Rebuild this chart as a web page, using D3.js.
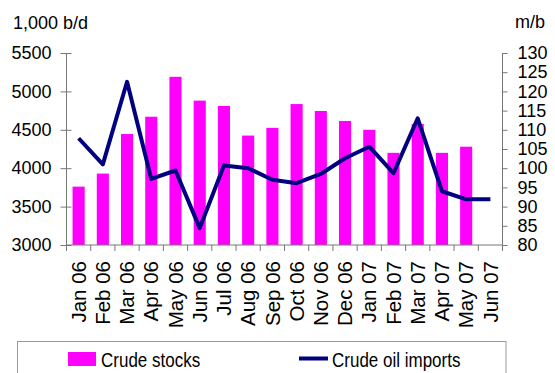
<!DOCTYPE html>
<html>
<head>
<meta charset="utf-8">
<script src="https://cdn.jsdelivr.net/npm/d3@7"></script>
<style>
  html, body { margin: 0; padding: 0; background: #fff; }
  svg { display: block; font-family: "Liberation Sans", Arial, sans-serif; }
</style>
</head>
<body>
<svg id="chart" width="555" height="373"></svg>
<script>
// Monthly categories
const months = ["Jan 06", "Feb 06", "Mar 06", "Apr 06", "May 06", "Jun 06",
                "Jul 06", "Aug 06", "Sep 06", "Oct 06", "Nov 06", "Dec 06",
                "Jan 07", "Feb 07", "Mar 07", "Apr 07", "May 07", "Jun 07"];

// Crude stocks, 1,000 b/d (left axis)
const crudeStocks = [3760, 3930, 4445, 4670, 5190, 4880, 4810, 4425, 4525,
                     4835, 4745, 4615, 4500, 4200, 4575, 4200, 4280, null];

// Crude oil imports, m/b (right axis)
const crudeImports = [107.8, 101.0, 122.5, 97.2, 99.4, 84.4, 100.7, 100.0, 97.0,
                      96.1, 98.5, 102.6, 105.6, 98.7, 113.0, 94.0, 91.9, 91.9];

// Axis ticks
const leftTicks = [3000, 3500, 4000, 4500, 5000, 5500];
const rightTicks = [80, 85, 90, 95, 100, 105, 110, 115, 120, 125, 130];

const svg = d3.select("#chart");
const plot = { left: 66.5, right: 502.5, top: 53, bottom: 245 };
const axisColor = "#777";

const x = d3.scaleBand()
  .domain(months)
  .range([plot.left, plot.right])
  .paddingInner(0.5)
  .paddingOuter(0.25);

const step = x.step();
const center = m => x(m) + x.bandwidth() / 2;

const yLeft = d3.scaleLinear().domain([3000, 5500]).range([plot.bottom, plot.top]);
const yRight = d3.scaleLinear().domain([80, 130]).range([plot.bottom, plot.top]);

// Bars
svg.append("g")
  .selectAll("rect")
  .data(months.map((m, i) => ({ m, v: crudeStocks[i] })).filter(d => d.v != null))
  .join("rect")
  .attr("x", d => x(d.m))
  .attr("width", x.bandwidth())
  .attr("y", d => yLeft(d.v))
  .attr("height", d => yLeft(3000) - yLeft(d.v))
  .attr("fill", "#ff00ff");

// Imports line
const line = d3.line()
  .x((d, i) => center(months[i]))
  .y(d => yRight(d));

svg.append("path")
  .datum(crudeImports)
  .attr("d", line)
  .attr("fill", "none")
  .attr("stroke", "#000080")
  .attr("stroke-width", 4)
  .attr("stroke-linejoin", "round");

// Left axis
const gLeft = svg.append("g")
  .attr("transform", `translate(${plot.left},0)`)
  .call(d3.axisLeft(yLeft).tickValues(leftTicks).tickSize(6).tickPadding(9).tickFormat(d3.format("d")));
gLeft.selectAll(".tick line").attr("x2", -6).attr("x1", 5);

// Right axis
const gRight = svg.append("g")
  .attr("transform", `translate(${plot.right},0)`)
  .call(d3.axisRight(yRight).tickValues(rightTicks).tickSize(5).tickPadding(10));

[gLeft, gRight].forEach(g => {
  g.select(".domain").attr("stroke", axisColor).attr("d", `M0,${plot.top}V${plot.bottom}`);
  g.selectAll(".tick line").attr("stroke", axisColor);
  g.selectAll(".tick text")
    .attr("fill", "#000")
    .style("font-size", "18px")
    .style("font-family", "'Liberation Sans', Arial, sans-serif");
});

// Category axis
const gx = svg.append("g");
gx.append("line")
  .attr("x1", plot.left).attr("x2", plot.right)
  .attr("y1", plot.bottom).attr("y2", plot.bottom)
  .attr("stroke", axisColor);

const boundaries = months.map(m => x(m) - step * 0.25).concat([plot.right]);
gx.selectAll("line.tk")
  .data(boundaries)
  .join("line")
  .attr("class", "tk")
  .attr("x1", d => d).attr("x2", d => d)
  .attr("y1", plot.bottom).attr("y2", plot.bottom + 6)
  .attr("stroke", axisColor);

gx.selectAll("text")
  .data(months)
  .join("text")
  .attr("transform", d => `translate(${center(d)},${plot.bottom + 16}) rotate(-90)`)
  .attr("text-anchor", "end")
  .attr("dy", "0.35em")
  .style("font-size", "20.5px")
  .text(d => d);

// Axis titles
svg.append("text")
  .attr("x", 13).attr("y", 29)
  .style("font-size", "18px")
  .text("1,000 b/d");

svg.append("text")
  .attr("x", 545).attr("y", 28)
  .attr("text-anchor", "end")
  .style("font-size", "18px")
  .text("m/b");

// Legend
const lg = svg.append("g");
lg.append("rect")
  .attr("x", 17.5).attr("y", 341.5)
  .attr("width", 488.5).attr("height", 40)
  .attr("fill", "#fff")
  .attr("stroke", "#999");

lg.append("rect")
  .attr("x", 68).attr("y", 352)
  .attr("width", 28).attr("height", 14)
  .attr("fill", "#ff00ff");
lg.append("text")
  .attr("transform", "translate(101,366.5) scale(1,1.2)")
  .style("font-size", "17px")
  .text("Crude stocks");

lg.append("line")
  .attr("x1", 299).attr("x2", 328)
  .attr("y1", 358.5).attr("y2", 358.5)
  .attr("stroke", "#000080")
  .attr("stroke-width", 4);
lg.append("text")
  .attr("transform", "translate(332,366.5) scale(1,1.2)")
  .style("font-size", "17px")
  .text("Crude oil imports");
</script>
</body>
</html>
